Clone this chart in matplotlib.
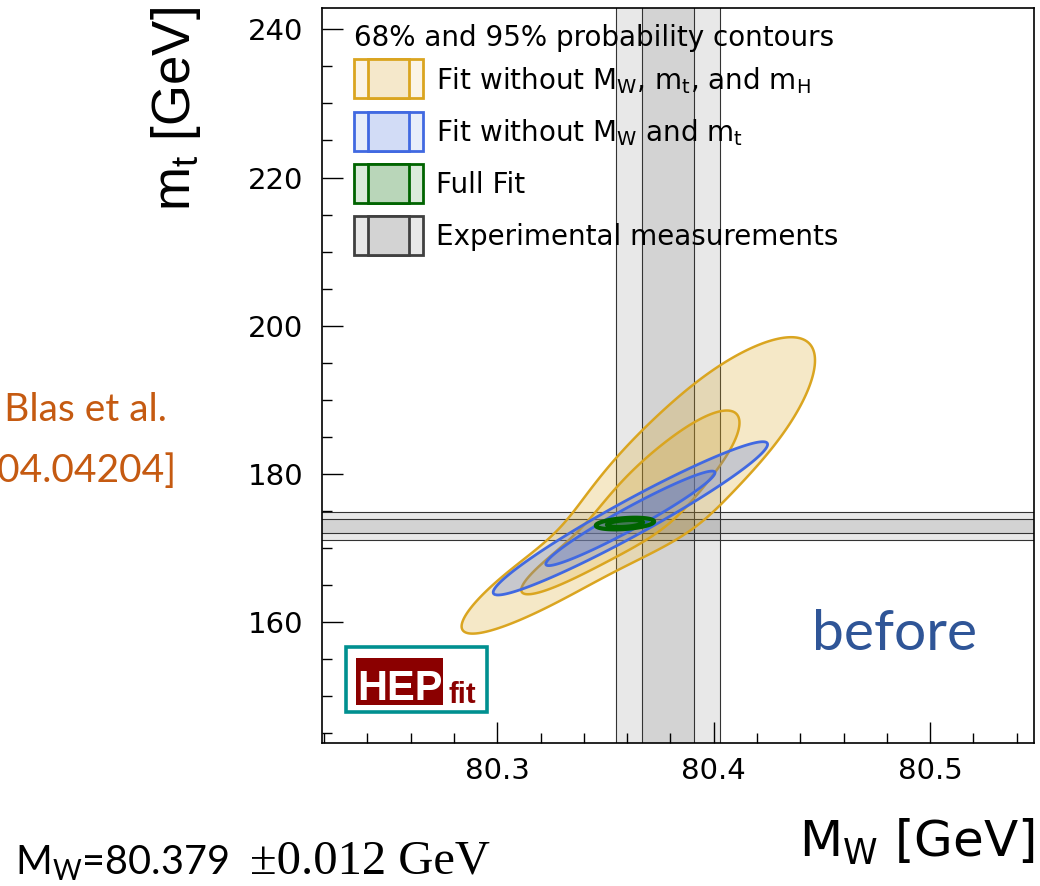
import numpy as np
import matplotlib.pyplot as plt
from matplotlib.patches import Rectangle
from matplotlib.ticker import MultipleLocator

# Posterior summaries in the (M_W, m_t) plane: mode, widths below/above the mode
# and correlation in the low / high tail for each fit
FIT_LABELS = [
    r"Fit without M$_\mathregular{W}$, m$_\mathregular{t}$, and m$_\mathregular{H}$",
    r"Fit without M$_\mathregular{W}$ and m$_\mathregular{t}$",
    "Full Fit",
]
MW_MODE = [80.356, 80.3615, 80.359]
MT_MODE = [172.6, 173.95, 173.25]
MW_SIG_LO = [0.0296, 0.0259, 0.0055]
MW_SIG_HI = [0.0371, 0.0259, 0.0055]
MT_SIG_LO = [5.8, 4.23, 0.32]
MT_SIG_HI = [10.55, 4.23, 0.32]
RHO_LO = [0.93, 0.965, 0.35]
RHO_HI = [0.875, 0.965, 0.35]

# Experimental measurements (1 sigma, bands drawn at 1 and 2 sigma)
MW_EXP, MW_ERR = 80.379, 0.012
MT_EXP, MT_ERR = 172.9, 0.97

PROB_LEVELS = [0.68, 0.95]

X_TICKS = [80.3, 80.4, 80.5]

# styles
FIT_COLORS = ["#DAA520", "#4169E1", "#006400"]
FILL_ALPHA = [(0.25, 0.20), (0.25, 0.30), (0.30, 0.30)]
LINE_W = [1.8, 2.0, 3.0]
LEG_EDGE = FIT_COLORS + ["#404040"]
LEG_LIGHT = ["#FBF4E6", "#E8EEFA", "#DBEBDB", "#E8E8E8"]
LEG_MID = ["#F5E8CB", "#D2DCF6", "#B9D6B9", "#D3D3D3"]

W, H = 1040, 886
fig = plt.figure(figsize=(W / 100, H / 100), dpi=100)


def fxy(px, py):
    return px / W, 1 - py / H


def ax_xy(px, py):
    return (px - 322) / 712, (743 - py) / 735


ax = fig.add_axes([322 / W, 1 - 743 / H, 712 / W, 735 / H])
ax.set_xlim(80.219, 80.548)
ax.set_ylim(143.6, 242.9)


def sigmoid(t):
    return 1 / (1 + np.exp(-np.clip(t, -50, 50)))


def scaled(d, lo, hi):
    # smooth switch between the lower and upper width
    w = 0.4 * min(lo, hi)
    return d / (lo + (hi - lo) * sigmoid(d / w))


def chi2_map(i, n=500):
    xs = np.linspace(MW_MODE[i] - 3.3 * MW_SIG_LO[i], MW_MODE[i] + 3.3 * MW_SIG_HI[i], n)
    ys = np.linspace(MT_MODE[i] - 3.3 * MT_SIG_LO[i], MT_MODE[i] + 3.3 * MT_SIG_HI[i], n)
    X, Y = np.meshgrid(xs, ys)
    u = scaled(X - MW_MODE[i], MW_SIG_LO[i], MW_SIG_HI[i])
    v = scaled(Y - MT_MODE[i], MT_SIG_LO[i], MT_SIG_HI[i])
    # correlation relaxes towards the upper tail
    r = RHO_LO[i] + (RHO_HI[i] - RHO_LO[i]) * sigmoid((u + v - 2.5) / 0.8)
    return X, Y, (u * u - 2 * r * u * v + v * v) / (1 - r * r)


k68, k95 = -2 * np.log(1 - np.array(PROB_LEVELS))

# experimental bands
for nsig in (2, 1):
    ax.axvspan(MW_EXP - nsig * MW_ERR, MW_EXP + nsig * MW_ERR, color="k", alpha=0.09, lw=0, zorder=1)
    ax.axhspan(MT_EXP - nsig * MT_ERR, MT_EXP + nsig * MT_ERR, color="k", alpha=0.09, lw=0, zorder=1)
    for s in (-1, 1):
        ax.axvline(MW_EXP + s * nsig * MW_ERR, color="#333333", lw=0.8, zorder=1.5)
        ax.axhline(MT_EXP + s * nsig * MT_ERR, color="#333333", lw=0.8, zorder=1.5)

# probability contours
for i, c in enumerate(FIT_COLORS):
    X, Y, Q = chi2_map(i)
    a_out, a_in = FILL_ALPHA[i]
    ax.contourf(X, Y, Q, levels=[-1, k95], colors=[c], alpha=a_out, zorder=2 + i)
    ax.contourf(X, Y, Q, levels=[-1, k68], colors=[c], alpha=a_in, zorder=2 + i)
    ax.contour(X, Y, Q, levels=[k68, k95], colors=[c], linewidths=LINE_W[i], zorder=2.5 + i)

# axes styling
ax.set_xticks(X_TICKS)
ax.xaxis.set_minor_locator(MultipleLocator(0.02))
ax.yaxis.set_major_locator(MultipleLocator(20))
ax.yaxis.set_minor_locator(MultipleLocator(5))
ax.tick_params(which="both", direction="in", top=False, right=False, width=1.0, color="k")
ax.tick_params(which="major", length=15, labelsize=21)
ax.tick_params(which="minor", length=7.5)
ax.tick_params(axis="y", pad=13.5)
ax.tick_params(axis="x", pad=10)
for sp in ax.spines.values():
    sp.set_linewidth(1.2)
    sp.set_zorder(10)

ax.set_xlabel(r"M$_\mathregular{W}$ [GeV]", fontsize=36)
ax.xaxis.label.set(ha="right", va="baseline")
ax.xaxis.set_label_coords(*ax_xy(1035, 857))
ax.set_ylabel(r"m$_\mathregular{t}$ [GeV]", fontsize=38, family="Liberation Sans")
ax.yaxis.label.set(rotation=90, rotation_mode="anchor", ha="right", va="baseline")
ax.yaxis.set_label_coords(*ax_xy(190, 7))

# legend
tx, ty = ax_xy(354, 46)
ax.text(tx, ty, "68% and 95% probability contours", transform=ax.transAxes,
        fontsize=20, va="baseline", ha="left", zorder=6)
labels = FIT_LABELS + ["Experimental measurements"]
for j, lab in enumerate(labels):
    top = 59.3 + 52.2 * j
    bx, by = ax_xy(353.6, top + 39)
    ax.add_patch(Rectangle((bx, by), 69 / 712, 39 / 735, transform=ax.transAxes,
                           facecolor=LEG_LIGHT[j], edgecolor=LEG_EDGE[j], lw=2.0, zorder=6))
    ax.add_patch(Rectangle((bx + 14 / 712, by), 41 / 712, 39 / 735, transform=ax.transAxes,
                           facecolor=LEG_MID[j], edgecolor=LEG_EDGE[j], lw=2.0, zorder=6))
    lx, ly = ax_xy(435.6, top + 29.5)
    ax.text(lx, ly, lab, transform=ax.transAxes, fontsize=20, va="baseline", ha="left", zorder=6)

# HEPfit logo
x0, y0 = ax_xy(346, 712)
ax.add_patch(Rectangle((x0, y0), 141 / 712, 65 / 735, transform=ax.transAxes,
                       facecolor="white", edgecolor="#009090", lw=2.6, zorder=7))
x0, y0 = ax_xy(356, 705)
ax.add_patch(Rectangle((x0, y0), 87 / 712, 47 / 735, transform=ax.transAxes,
                       facecolor="#8B0000", lw=0, zorder=8))
ax.text(*ax_xy(399.5, 700), "HEP", transform=ax.transAxes, color="white", fontsize=30,
        family="Liberation Sans", weight="bold", ha="center", va="baseline", zorder=9)
ax.text(*ax_xy(462, 703), "fit", transform=ax.transAxes, color="#8B0000", fontsize=21,
        family="Liberation Sans", weight="bold", ha="center", va="baseline", zorder=9)

# annotations around the plot
fig.text(*fxy(812, 650), "before", color="#2F5597", fontsize=41, family="Lato",
         ha="left", va="baseline")
fig.text(*fxy(167, 421), "de Blas et al.", color="#C55A11", fontsize=28, family="Lato",
         ha="right", va="baseline")
fig.text(*fxy(177, 482), "[2204.04204]", color="#C55A11", fontsize=28, family="Lato",
         ha="right", va="baseline")
fig.text(*fxy(15, 874), r"M$_\mathregular{W}$=80.379", color="k", fontsize=28.5, family="Lato",
         ha="left", va="baseline")
fig.text(*fxy(250, 874), "\u00b10.012 GeV", color="k", fontsize=35, family="Liberation Serif",
         ha="left", va="baseline")

fig.savefig("out.png", dpi=100)
